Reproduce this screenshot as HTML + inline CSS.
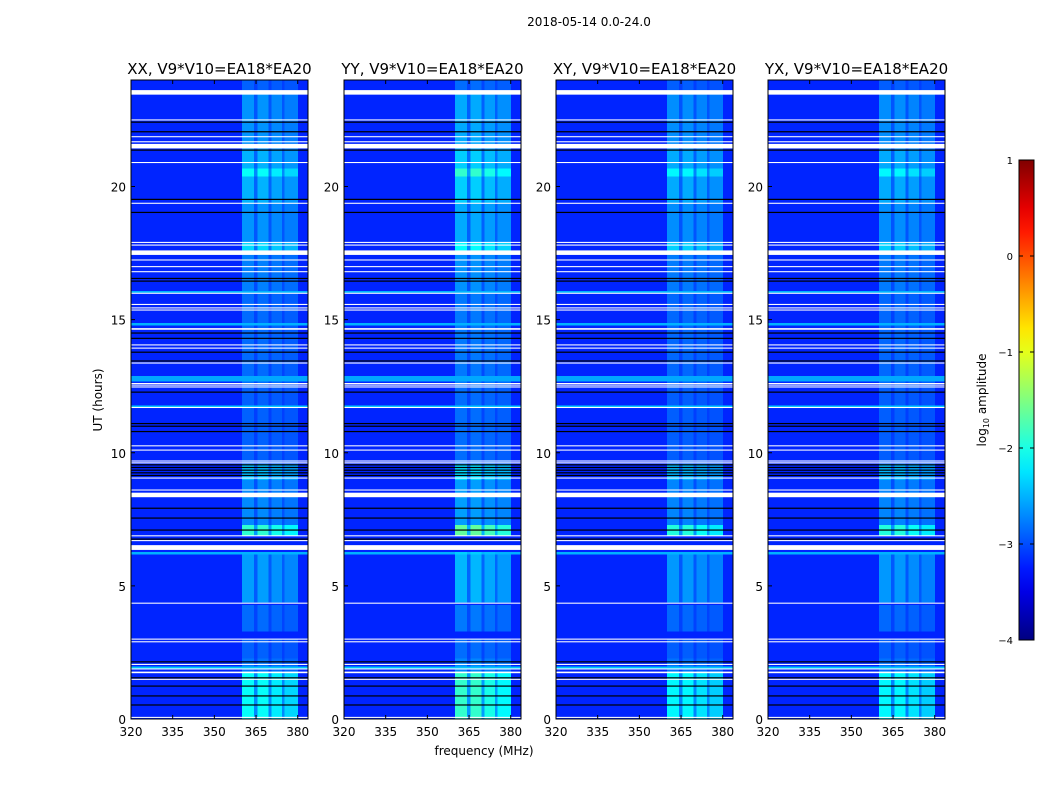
<!DOCTYPE html>
<html><head><meta charset="utf-8"><style>
body{margin:0;background:#fff;}
svg{display:block;font-family:"DejaVu Sans","Liberation Sans",sans-serif;}
</style></head><body>
<svg id="fig" width="1050" height="800" viewBox="0 0 1050 800">
<text x="589" y="26" font-size="12" text-anchor="middle">2018-05-14 0.0-24.0</text>
<text x="484" y="755" font-size="12" text-anchor="middle">frequency (MHz)</text>
<text transform="translate(102,400) rotate(-90)" font-size="12" text-anchor="middle">UT (hours)</text>
<g id="panels"></g>
<g id="cbar"></g>
</svg>
<script>
// ---- data ----
const panelNames = ["XX, V9*V10=EA18*EA20","YY, V9*V10=EA18*EA20","XY, V9*V10=EA18*EA20","YX, V9*V10=EA18*EA20"];
const panelGain = [1.0, 1.2, 0.95, 0.95];
const xTicks = [320,335,350,365,380];
const yTicks = [0,5,10,15,20];
const baseLevel = -3.2;
// RFI columns (MHz)
const colStart = [360, 364.3, 365.5, 369.5, 370.5, 374.3, 375.3];
const colEnd   = [364.3, 365.5, 369.5, 370.5, 374.3, 375.3, 380];
const colGain  = [1.0, 0.45, 1.0, 0.45, 0.9, 0.45, 0.8];
// RFI time segments (hours) and log10 level
const rfiStart = [0, 1.8, 2.3, 3.3, 4.4, 6.9, 7.3, 9.05, 9.6, 12.6, 16.0, 17.6, 17.9, 19.4, 20.4, 20.7, 21.4, 23.5];
const rfiEnd   = [1.8, 2.3, 3.0, 4.3, 6.2, 7.3, 9.05, 9.6, 12.6, 16.0, 17.6, 17.9, 19.4, 20.4, 20.7, 21.4, 23.5, 24];
const rfiLevel = [-2.1, -2.8, -2.9, -2.85, -2.6, -1.9, -2.7, -2.45, -2.9, -2.85, -2.75, -2.3, -2.65, -2.5, -2.1, -2.5, -2.65, -2.9];
// full-band elevated rows
const bandStart = [16.05, 14.83, 12.66, 11.72, 6.23, 1.9];
const bandEnd   = [16.15, 14.9, 12.88, 11.8, 6.3, 1.98];
const bandLevel = [-2.5, -2.5, -2.55, -2.4, -2.5, -2.4];
// flagged (white) rows
const flagStart = [23.45,22.48,21.85,21.66,21.43,20.88,19.35,17.88,17.78,17.43,17.22,16.97,16.78,15.97,15.55,15.42,15.34,14.62,14.03,13.91,13.35,12.58,12.53,12.45,11.68,10.24,10.08,9.67,9.6,9.03,8.58,8.33,6.86,6.68,6.35,4.33,2.98,2.88,2.03,1.86,1.72,1.47,0.04];
const flagEnd   = [23.62,22.52,21.89,21.7,21.6,20.92,19.39,17.92,17.82,17.6,17.26,17.01,16.82,16.01,15.59,15.46,15.38,14.68,14.07,13.95,13.39,12.62,12.56,12.49,11.72,10.28,10.12,9.71,9.64,9.07,8.62,8.5,6.9,6.72,6.53,4.37,3.02,2.92,2.07,1.9,1.78,1.51,0.08];
// black lines
const blackTimes = [22.42,22.06,21.37,19.52,19.03,16.55,16.45,14.5,14.3,13.78,13.45,12.28,11.1,11.0,10.8,9.55,9.45,9.35,9.25,9.15,7.92,7.55,7.1,6.76,2.15,1.55,1.24,0.87,0.53];
const cbTicks = [1,0,-1,-2,-3,-4];

// ---- scales ----
const panelX = [131, 344, 556, 768];
const PW = 177, Y0 = 719, PXH = 26.625, FMIN = 320, FMAX = 383.7;
const yOf = h => Y0 - h * PXH;
const NS = "http://www.w3.org/2000/svg";
function jet(v){
  let t = (v + 4) / 5; t = Math.max(0, Math.min(1, t));
  const c = x => Math.round(255 * Math.max(0, Math.min(1, x)));
  return `rgb(${c(1.5-Math.abs(4*t-3))},${c(1.5-Math.abs(4*t-2))},${c(1.5-Math.abs(4*t-1))})`;
}
function mk(tag, attrs, parent){
  const e = document.createElementNS(NS, tag);
  for (const k in attrs) e.setAttribute(k, attrs[k]);
  parent.appendChild(e); return e;
}
function lookup(h, s, e, l, def){
  for (let i = 0; i < s.length; i++) if (h >= s[i] && h < e[i]) return l[i];
  return def;
}
const root = document.getElementById("panels");
panelNames.forEach((name, p) => {
  const x0 = panelX[p];
  const xOf = f => x0 + (f - FMIN) / (FMAX - FMIN) * PW;
  const g = mk("g", {}, root);
  
  
  const t = mk("text", {x: x0 + PW/2, y: 74, "font-size": 15, "text-anchor": "middle"}, g);
  t.textContent = name;
  
  
  const step = 0.1;
  for (let k = 0; k < 240; k++) {
    const h = k * step, hc = h + step/2;
    const base = lookup(hc, bandStart, bandEnd, bandLevel, baseLevel);
    const yTop = yOf(h + step), hh = step * PXH + 0.6;
    const r = mk("rect", {x: x0, y: yTop, width: PW, height: hh, fill: jet(base), "shape-rendering": "crispEdges"}, g);
    
    
    const lvl = lookup(hc, rfiStart, rfiEnd, rfiLevel, base);
    for (let c = 0; c < colStart.length; c++) {
      const amp = (lvl - baseLevel) * colGain[c] * panelGain[p];
      const v = Math.max(base, baseLevel + amp);
      const cell = mk("rect", {x: xOf(colStart[c]), y: yTop, width: xOf(colEnd[c]) - xOf(colStart[c]) + 0.3, height: hh, fill: jet(v), "shape-rendering": "crispEdges"}, g);
      
      
    }
  }
  flagStart.forEach((s, i) => {
    const r = mk("rect", {x: x0, y: yOf(flagEnd[i]), width: PW, height: Math.max(1, (flagEnd[i]-s)*PXH), fill: "#fff"}, g);
    
    
  });
  blackTimes.forEach(b => {
    const l = mk("rect", {x: x0, y: yOf(b) - 0.5, width: PW, height: 1.2, fill: "#000"}, g);
    
    
  });
  const fr = mk("rect", {x: x0, y: yOf(24), width: PW, height: 24*PXH, fill: "none", stroke: "#000", "stroke-width": 1}, g);
  
  
  xTicks.forEach(f => {
    const xx = xOf(f);
    mk("line", {x1: xx, x2: xx, y1: Y0, y2: Y0-4, stroke: "#000"}, g);
    mk("line", {x1: xx, x2: xx, y1: yOf(24), y2: yOf(24)+4, stroke: "#000"}, g);
    const tx = mk("text", {x: xx, y: Y0 + 17, "font-size": 12, "text-anchor": "middle"}, g);
    tx.textContent = f;
    
    
  });
  yTicks.forEach(v => {
    const yy = yOf(v);
    mk("line", {x1: x0, x2: x0+4, y1: yy, y2: yy, stroke: "#000"}, g);
    const tx = mk("text", {x: x0 - 5, y: yy + 5, "font-size": 12, "text-anchor": "end"}, g);
    tx.textContent = v;
    
    
  });
});
// colorbar
const cb = document.getElementById("cbar");
const CBX = 1019, CBW = 15, CBT = 160, CBB = 640;
const defs = mk("defs", {}, cb);
const grad = mk("linearGradient", {id: "jetg", x1: 0, y1: 1, x2: 0, y2: 0}, defs);
for (let i = 0; i <= 20; i++) mk("stop", {offset: i/20, "stop-color": jet(-4 + 5*i/20)}, grad);
const cbr = mk("rect", {x: CBX, y: CBT, width: CBW, height: CBB-CBT, fill: "url(#jetg)", stroke: "#000", "stroke-width": 1}, cb);


cbTicks.forEach(v => {
  const yy = CBB - (v + 4) / 5 * (CBB - CBT);
  mk("line", {x1: CBX, x2: CBX+4, y1: yy, y2: yy, stroke: "#000"}, cb);
  mk("line", {x1: CBX+CBW-4, x2: CBX+CBW, y1: yy, y2: yy, stroke: "#000"}, cb);
  const tx = mk("text", {x: 1013, y: yy + 4, "font-size": 10, "text-anchor": "end"}, cb);
  tx.textContent = v < 0 ? "\u2212" + (-v) : v;
  
  
});
const cbl = mk("text", {transform: "translate(986,400) rotate(-90)", "font-size": 12, "text-anchor": "middle"}, cb);
cbl.innerHTML = 'log<tspan font-size="8" dy="3">10</tspan><tspan dy="-3"> amplitude</tspan>';


</script>
</body></html>
